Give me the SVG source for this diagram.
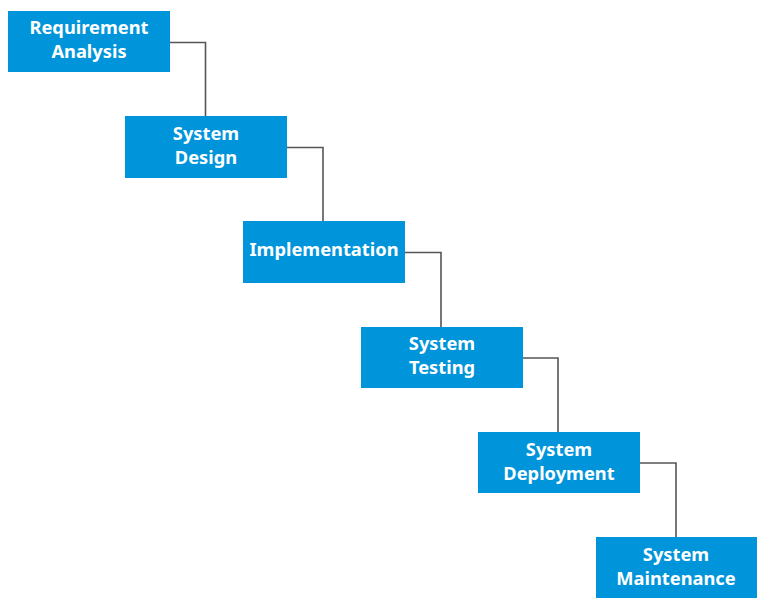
<svg xmlns="http://www.w3.org/2000/svg" width="768" height="609" viewBox="0 0 768 609">
<style>
.box{fill:#0095DA}
.t{fill:#fff;font-family:"Noto Sans","Open Sans",sans-serif;font-weight:bold;font-size:18.3px;text-anchor:middle}
.c{fill:none;stroke:#555;stroke-width:1.6}
</style>
<rect width="768" height="609" fill="#fff"/>
<g id="connectors">
<path class="c" d="M170 42.5H205.5V116"/>
<path class="c" d="M287 147.5H323V221"/>
<path class="c" d="M405 252.5H441V327"/>
<path class="c" d="M523 358H558V432"/>
<path class="c" d="M640 463H676V537"/>
</g>
<g id="n1"><rect class="box" x="8" y="11" width="162" height="61"/><text class="t" x="89" y="34">Requirement</text><text class="t" x="89" y="58">Analysis</text></g>
<g id="n2"><rect class="box" x="125" y="116" width="162" height="62"/><text class="t" x="206" y="139.5">System</text><text class="t" x="206" y="163.5">Design</text></g>
<g id="n3"><rect class="box" x="243" y="221" width="162" height="62"/><text class="t" x="324" y="256">Implementation</text></g>
<g id="n4"><rect class="box" x="361" y="327" width="162" height="61"/><text class="t" x="442" y="350">System</text><text class="t" x="442" y="374">Testing</text></g>
<g id="n5"><rect class="box" x="478" y="432" width="162" height="61"/><text class="t" x="559" y="455.5">System</text><text class="t" x="559" y="479.5">Deployment</text></g>
<g id="n6"><rect class="box" x="596" y="537" width="161" height="61"/><text class="t" x="676" y="560.5">System</text><text class="t" x="676" y="584.5">Maintenance</text></g>
</svg>
